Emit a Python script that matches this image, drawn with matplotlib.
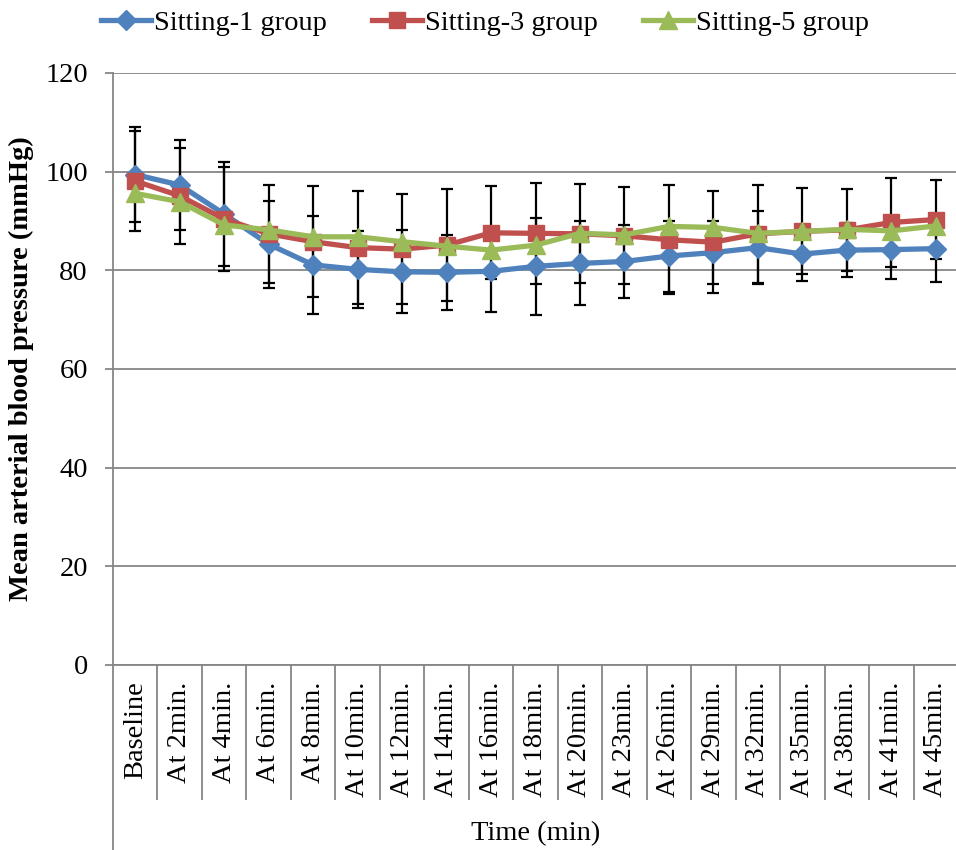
import numpy as np
import matplotlib
matplotlib.use('Agg')
import matplotlib.pyplot as plt

plt.rcParams['font.family'] = ['Liberation Serif', 'DejaVu Serif']

# Categorias do eixo x
labels = ['Baseline', 'At 2min.', 'At 4min.', 'At 6min.', 'At 8min.', 'At 10min.',
          'At 12min.', 'At 14min.', 'At 16min.', 'At 18min.', 'At 20min.', 'At 23min.',
          'At 26min.', 'At 29min.', 'At 32min.', 'At 35min.', 'At 38min.', 'At 41min.',
          'At 45min.']

# Sitting-1 group (média e desvio)
s1_mean = [99.4, 97.3, 91.4, 85.3, 81.1, 80.2, 79.7, 79.6, 79.8, 80.8,
           81.4, 81.8, 82.9, 83.6, 84.6, 83.3, 84.1, 84.2, 84.4]
s1_err = [9.6, 9.1, 10.6, 8.8, 9.9, 7.8, 8.4, 7.6, 8.2, 9.9,
          8.5, 7.4, 7.2, 6.3, 7.4, 5.4, 5.5, 6.0, 6.7]

# Sitting-3 group
s3_mean = [98.1, 95.1, 90.4, 87.4, 85.8, 84.6, 84.3, 85.1, 87.6, 87.5,
           87.4, 87.0, 86.2, 85.7, 87.4, 87.9, 88.2, 89.7, 90.3]
s3_err = [10.2, 9.7, 10.5, 9.9, 11.2, 11.5, 11.2, 11.4, 9.4, 10.3,
          10.0, 9.8, 11.0, 10.3, 9.9, 8.7, 8.3, 9.1, 8.0]

# Sitting-5 group
s5_mean = [95.6, 93.9, 89.2, 88.2, 86.8, 86.8, 85.8, 84.9, 84.1, 85.1,
           87.5, 87.2, 88.9, 88.7, 87.5, 87.9, 88.3, 88.0, 89.0]

blue = '#4F81BD'
red = '#C0504D'
green = '#9BBB59'
grid_c = '#868686'

x = np.arange(len(labels))

fig = plt.figure(figsize=(9.56, 8.5), dpi=100)
ax = fig.add_axes([113/956, 1 - 665/850, (958-113)/956, (665-73)/850])

# barras de erro (somente grupos 1 e 3)
ax.errorbar(x, s1_mean, yerr=s1_err, fmt='none', ecolor='black', elinewidth=1.6,
            capsize=4.5, capthick=1.6, zorder=2)
ax.errorbar(x, s3_mean, yerr=s3_err, fmt='none', ecolor='black', elinewidth=1.6,
            capsize=4.5, capthick=1.6, zorder=2)

ax.plot(x, s1_mean, color=blue, lw=3.8, marker='D', ms=10.5, mec=blue, mfc=blue,
        label='Sitting-1 group', zorder=3)
ax.plot(x, s3_mean, color=red, lw=3.8, marker='s', ms=11.5, mec=red, mfc=red,
        label='Sitting-3 group', zorder=4)
ax.plot(x, s5_mean, color=green, lw=3.8, marker='^', ms=12.5, mec=green, mfc=green,
        label='Sitting-5 group', zorder=5)

ax.set_xlim(-0.5, len(labels) - 0.5)
ax.set_ylim(0, 120)
ax.set_yticks(np.arange(0, 121, 20))
ax.yaxis.grid(True, color=grid_c, lw=1.3)
ax.set_axisbelow(True)

for s in ['top', 'right']:
    ax.spines[s].set_visible(False)
ax.spines['bottom'].set_color(grid_c)
ax.spines['bottom'].set_linewidth(1.3)
ax.spines['left'].set_visible(False)
# eixo vertical estendido até a borda inferior
ax.axvline(-0.5, ymin=-0.32, ymax=1, color=grid_c, lw=1.3, clip_on=False)

ax.set_xticks(x)
ax.set_xticklabels(labels, rotation=90, fontsize=20.5)
ax.set_xticks(np.arange(0.5, len(labels) - 0.5, 1), minor=True)
ax.tick_params(axis='x', which='major', length=0, pad=12)
ax.tick_params(axis='x', which='minor', length=97, width=1.3, color=grid_c)
ax.tick_params(axis='y', length=6, width=1.3, color=grid_c, labelsize=20.5, pad=12)

ax.set_xlabel('Time (min)', fontsize=20.5, labelpad=12)
ax.set_ylabel('Mean arterial blood pressure (mmHg)', fontsize=20.5,
              fontweight='bold', labelpad=8)

ax.legend(loc='upper center', bbox_to_anchor=(0.44, 1.125), ncol=3, frameon=False,
          fontsize=20.5, handlelength=1.75, handletextpad=0.1, columnspacing=1.6,
          borderaxespad=0)

fig.savefig('out.png', dpi=100)
